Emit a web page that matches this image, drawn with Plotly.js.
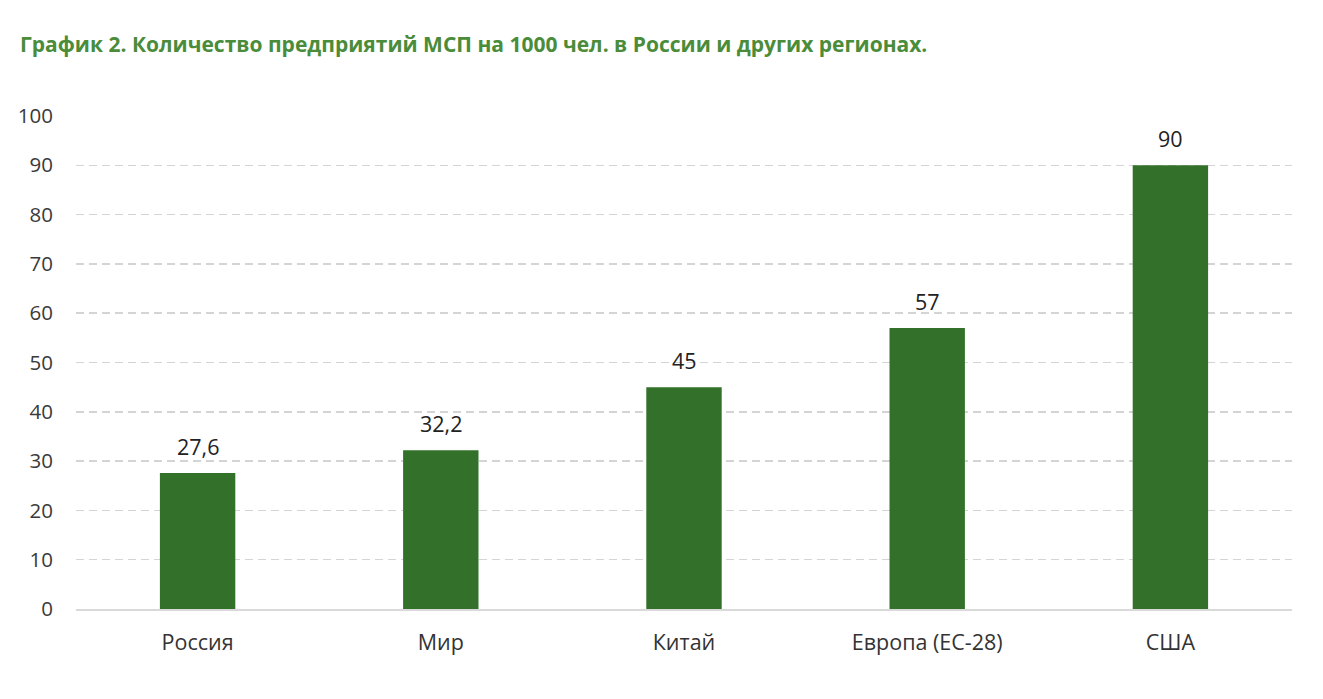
<!DOCTYPE html>
<html>
<head>
<meta charset="utf-8">
<script src="https://cdn.plot.ly/plotly-3.0.1.min.js"></script>
<style>html,body{margin:0;padding:0;background:#fff;}#chart{width:1323px;height:699px;}</style>
</head>
<body>
<div id="chart"></div>
<script>
const categories = ["Россия", "Мир", "Китай", "Европа (ЕС-28)", "США"];
const values = [27.6, 32.2, 45, 57, 90];
const valueLabels = ["27,6", "32,2", "45", "57", "90"];
const yTicks = [0, 10, 20, 30, 40, 50, 60, 70, 80, 90, 100];

const font = "Open Sans, Noto Sans, sans-serif";
const trace = {
  type: "bar",
  x: categories,
  y: values,
  marker: {color: "#33702a"},
  width: 0.31,
  hoverinfo: "none"
};
const annotations = categories.map((c, i) => ({
  x: c, y: values[i], text: valueLabels[i], showarrow: false,
  yanchor: "bottom", yshift: 10,
  font: {family: font, size: 21.5, color: "#222"}
}));
annotations.push({
  xref: "paper", yref: "paper", x: -0.048, y: 1.0, xanchor: "left", yanchor: "bottom",
  text: "<b>График 2. Количество предприятий МСП на 1000 чел. в России и других регионах.</b>",
  showarrow: false, yshift: 56,
  font: {family: font, size: 21, color: "#4a8c3a"}
});
const layout = {
  width: 1323, height: 699,
  margin: {l: 76, r: 31, t: 116, b: 90},
  paper_bgcolor: "#fff", plot_bgcolor: "#fff",
  showlegend: false,
  font: {family: font, color: "#333"},
  xaxis: {
    type: "category",
    tickfont: {family: font, size: 21.5, color: "#333"},
    ticklabelstandoff: 13,
    showgrid: false, zeroline: false,
    showline: true, linecolor: "#d9d9d9", linewidth: 2,
    ticks: ""
  },
  yaxis: {
    range: [0, 100],
    tickvals: yTicks,
    tickfont: {family: font, size: 20.5, color: "#3a3a3a"},
    ticklabelstandoff: 22,
    showgrid: true, gridcolor: "#d4d4d4", gridwidth: 1.5, griddash: "8px,5px",
    zeroline: false, showline: false, ticks: ""
  },
  annotations: annotations
};
Plotly.newPlot("chart", [trace], layout, {displayModeBar: false, staticPlot: true});
</script>
</body>
</html>
